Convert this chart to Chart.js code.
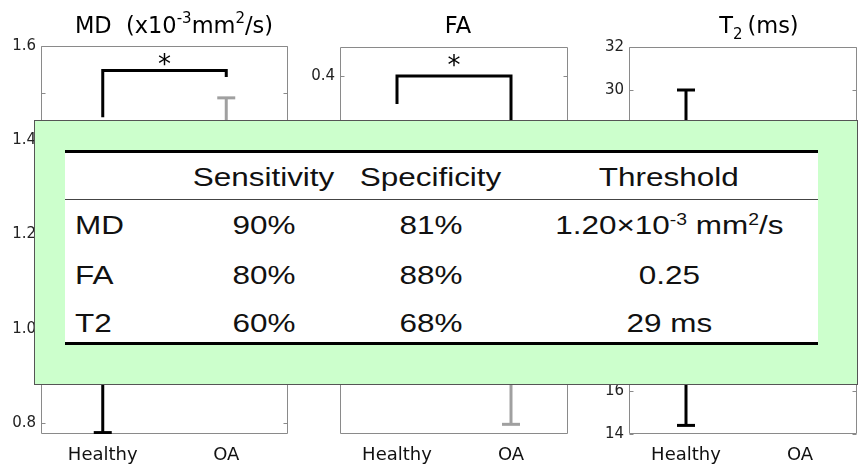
<!DOCTYPE html>
<html>
<head>
<meta charset="utf-8">
<script src="https://cdn.jsdelivr.net/npm/chart.js@4.4.1/dist/chart.umd.min.js"></script>
<style>
  html, body { margin: 0; padding: 0; background: #fff; }
  body { width: 859px; height: 468px; position: relative; overflow: hidden; }
  canvas.panel { position: absolute; top: 0; }
  #overlay { position: absolute; left: 34px; top: 120px; width: 824px; height: 265px;
             background: #ccffcc; border: 1px solid #555; box-sizing: border-box; z-index: 5; }
  #tbl { position: absolute; left: 65px; top: 150px; width: 753px; height: 195px; background: #fff;
         border-top: 3px solid #000; border-bottom: 3px solid #000; box-sizing: border-box; z-index: 6; }
  #tbl .mid { position: absolute; left: 0; right: 0; top: 46px; height: 0; border-top: 1.5px solid #444; }
  .cell { position: absolute; height: 30px; line-height: 30px; z-index: 7; white-space: nowrap;
          font-family: "Liberation Sans", Arial, sans-serif; font-size: 26px; color: #111; }
  .cell span.s { display: inline-block; transform: scaleX(1.21); }
  .cell.c { text-align: center; width: 320px; }
  .cell.c span.s { transform-origin: 50% 50%; }
  .cell.l { text-align: left; width: 200px; }
  .cell.l span.s { transform-origin: 0 50%; }
  .cell sup { font-size: 16px; vertical-align: 9px; line-height: 0; }
</style>
</head>
<body>
<canvas id="mdChart" class="panel" width="300" height="468" style="left:0px"></canvas>
<canvas id="faChart" class="panel" width="284" height="468" style="left:296px"></canvas>
<canvas id="t2Chart" class="panel" width="284" height="468" style="left:585px"></canvas>
<div id="overlay"></div>
<div id="tbl"><div class="mid"></div></div>
<div id="cells"></div>

<script>
// ---- groups ----
const groups = ['Healthy', 'OA'];
const groupColors = ['#000000', '#a0a0a0'];

// ---- MD (x10^-3 mm^2/s) ----
const mdTicks = [0.8, 0.9, 1.0, 1.1, 1.2, 1.3, 1.4, 1.5, 1.6];
const mdTickLabels = ['0.8', '', '1.0', '', '1.2', '', '1.4', '', '1.6'];
const mdWhiskerLow = [0.78, 1.05];
const mdWhiskerHigh = [1.40, 1.49];
const mdBracket = [1.449, 1.548, 1.534];   // Healthy end, bar level, OA end
const mdStar = 1.572;

// ---- FA ----
const faTicks = [0.1, 0.2, 0.3, 0.4];
const faTickLabels = ['0.1', '0.2', '0.3', '0.4'];
const faWhiskerLow = [0.17, 0.04];
const faWhiskerHigh = [0.35, 0.30];
const faBracket = [0.371, 0.400, 0.31];
const faStar = 0.417;

// ---- T2 (ms) ----
const t2Ticks = [14, 16, 18, 20, 22, 24, 26, 28, 30, 32];
const t2TickLabels = ['14', '16', '18', '20', '22', '24', '26', '28', '30', '32'];
const t2WhiskerLow = [14.4, 19.0];
const t2WhiskerHigh = [30.0, 27.0];

// ---- diagnostic performance table ----
const tableHeader = ['Sensitivity', 'Specificity', 'Threshold'];
const metrics = ['MD', 'FA', 'T2'];
const sensitivity = [90, 80, 60];
const specificity = [81, 88, 68];
const thresholds = [1.20, 0.25, 29];
const thresholdDigits = [2, 2, 0];
const thresholdUnits = ['\u00d710<sup>-3</sup> mm<sup>2</sup>/s', '', ' ms'];

// Axes frame with inward tick marks, panel title and significance star
const panelDecor = {
  id: 'panelDecor',
  beforeDatasetsDraw(chart, args, o) {
    const { ctx, chartArea: a, scales: { y } } = chart;
    ctx.save();
    ctx.strokeStyle = '#8a8a8a';
    ctx.lineWidth = 1;
    const L = Math.round(a.left) + 0.5, R = Math.round(a.right) - 0.5;
    const T = Math.round(a.top) + 0.5, B = Math.round(a.bottom) - 0.5;
    ctx.beginPath();
    ctx.rect(L, T, R - L, B - T);
    y.ticks.forEach(t => {
      const py = Math.round(y.getPixelForValue(t.value)) + 0.5;
      ctx.moveTo(L, py); ctx.lineTo(L + 4, py);
      ctx.moveTo(R, py); ctx.lineTo(R - 4, py);
    });
    ctx.stroke();
    ctx.restore();
  },
  afterDraw(chart, args, o) {
    const { ctx, scales: { x, y } } = chart;
    ctx.save();
    ctx.fillStyle = '#000';
    ctx.textBaseline = 'alphabetic';
    // title made of plain / superscript / subscript runs
    const big = '22.5px "DejaVu Sans"', small = '15px "DejaVu Sans"';
    let total = 0;
    o.title.forEach(([txt, kind]) => { ctx.font = kind ? small : big; total += ctx.measureText(txt).width; });
    let cx = o.titleX - total / 2;
    o.title.forEach(([txt, kind]) => {
      ctx.font = kind ? small : big;
      const dy = kind === 1 ? -10 : (kind === -1 ? 6 : 0);
      ctx.fillText(txt, cx, 32.5 + dy);
      cx += ctx.measureText(txt).width;
    });
    if (o.star !== undefined) {
      ctx.font = '26px "DejaVu Sans"';
      ctx.textAlign = 'center';
      ctx.fillText('*', x.getPixelForValue(1.5), y.getPixelForValue(o.star) + 14);
    }
    ctx.restore();
  }
};

function buildPanel(id, p) {
  const datasets = [];
  groups.forEach((g, i) => {
    const pts = [{ x: i + 1, y: p.low[i] }, { x: i + 1, y: p.high[i] }];
    datasets.push({ label: g + ' whisker', data: pts, showLine: true, borderColor: groupColors[i],
      borderWidth: 3, pointRadius: 0, borderCapStyle: 'butt' });
    datasets.push({ label: g + ' caps', data: pts, showLine: false, pointStyle: 'line', pointRadius: 9,
      pointHoverRadius: 9, pointBorderColor: groupColors[i], borderColor: groupColors[i],
      pointBorderWidth: 3, borderWidth: 3 });
  });
  if (p.bracket) {
    datasets.push({ label: 'significance', data: [
      { x: 1, y: p.bracket[0] }, { x: 1, y: p.bracket[1] },
      { x: 2, y: p.bracket[1] }, { x: 2, y: p.bracket[2] }],
      showLine: true, borderColor: '#000', borderWidth: 3, pointRadius: 0,
      borderJoinStyle: 'miter', borderCapStyle: 'butt' });
  }
  return new Chart(document.getElementById(id), {
    type: 'scatter',
    data: { datasets },
    options: {
      responsive: false, animation: false, events: [],
      layout: { padding: { top: p.top, right: p.right, left: 0, bottom: 0 } },
      plugins: {
        legend: { display: false }, tooltip: { enabled: false },
        panelDecor: { title: p.title, titleX: p.titleX, star: p.star }
      },
      scales: {
        x: {
          type: 'linear', min: 0.5, max: 2.5,
          afterBuildTicks: s => { s.ticks = groups.map((g, i) => ({ value: i + 1 })); },
          afterFit: s => { s.height = 34; },
          grid: { display: false, drawTicks: false }, border: { display: false },
          ticks: { padding: 11, color: '#111', font: { family: 'DejaVu Sans', size: 18 },
                   callback: (v, i) => groups[i] }
        },
        y: {
          min: p.min, max: p.max,
          afterBuildTicks: s => { s.ticks = p.ticks.map(v => ({ value: v })); },
          afterFit: s => { s.width = p.yWidth; },
          grid: { display: false, drawTicks: false }, border: { display: false },
          ticks: { padding: 5, color: '#222', font: { family: 'DejaVu Sans', size: 15 },
                   callback: (v, i) => p.tickLabels[i] }
        }
      }
    },
    plugins: [panelDecor]
  });
}

// title centres are in each canvas's own coordinates
buildPanel('mdChart', {
  min: 0.777, max: 1.6, ticks: mdTicks, tickLabels: mdTickLabels,
  low: mdWhiskerLow, high: mdWhiskerHigh, bracket: mdBracket, star: mdStar,
  title: [['MD  (x10', 0], ['-3', 1], ['mm', 0], ['2', 1], ['/s)', 0]], titleX: 174,
  top: 46, right: 9, yWidth: 41
});
buildPanel('faChart', {
  min: 0.03, max: 0.43, ticks: faTicks, tickLabels: faTickLabels,
  low: faWhiskerLow, high: faWhiskerHigh, bracket: faBracket, star: faStar,
  title: [['FA', 0]], titleX: 162,
  top: 47, right: 6, yWidth: 44
});
buildPanel('t2Chart', {
  min: 14, max: 32, ticks: t2Ticks, tickLabels: t2TickLabels,
  low: t2WhiskerLow, high: t2WhiskerHigh,
  title: [['T', 0], ['2 ', -1], ['(ms)', 0]], titleX: 174,
  top: 47, right: 5, yWidth: 44
});

// ---- table text ----
const colCenters = [264, 431, 669];
const headerY = 177;
const rowY = [225, 275, 323];
const labelX = 75;
const cells = document.getElementById('cells');
function addCell(html, x, y, align) {
  const d = document.createElement('div');
  d.className = 'cell ' + align;
  d.style.top = (y - 15) + 'px';
  d.style.left = (align === 'c' ? x - 160 : x) + 'px';
  d.innerHTML = '<span class="s">' + html + '</span>';
  cells.appendChild(d);
}
tableHeader.forEach((h, j) => addCell(h, colCenters[j], headerY, 'c'));
metrics.forEach((m, i) => {
  addCell(m, labelX, rowY[i], 'l');
  addCell(sensitivity[i] + '%', colCenters[0], rowY[i], 'c');
  addCell(specificity[i] + '%', colCenters[1], rowY[i], 'c');
  addCell(thresholds[i].toFixed(thresholdDigits[i]) + thresholdUnits[i], colCenters[2], rowY[i], 'c');
});
</script>
</body>
</html>
